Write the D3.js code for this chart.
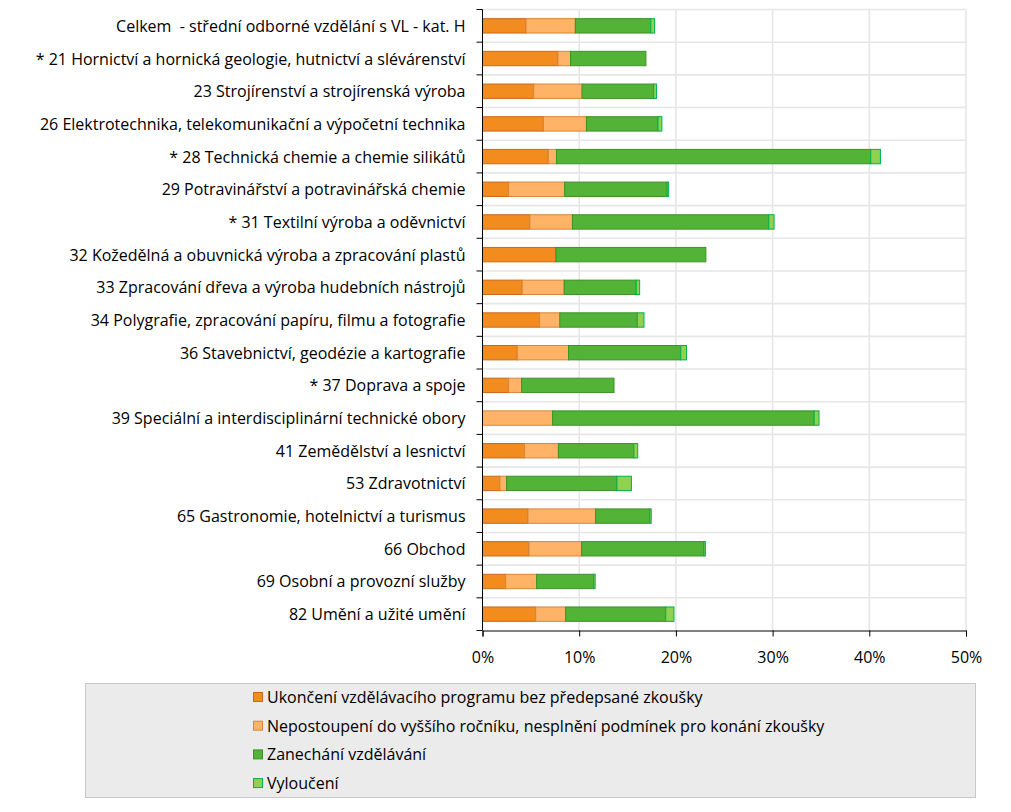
<!DOCTYPE html>
<html>
<head>
<meta charset="utf-8">
<script src="https://cdn.jsdelivr.net/npm/d3@7"></script>
<style>
  html, body { margin: 0; padding: 0; background: #ffffff; }
  svg text { font-family: "Open Sans", "Noto Sans", sans-serif; fill: #000; white-space: pre; }
</style>
</head>
<body>
<svg id="chart" width="1011" height="812"></svg>
<script>
const categories = [
  "Celkem  - střední odborné vzdělání s VL - kat. H",
  "* 21 Hornictví a hornická geologie, hutnictví a slévárenství",
  "23 Strojírenství a strojírenská výroba",
  "26 Elektrotechnika, telekomunikační a výpočetní technika",
  "* 28 Technická chemie a chemie silikátů",
  "29 Potravinářství a potravinářská chemie",
  "* 31 Textilní výroba a oděvnictví",
  "32 Kožedělná a obuvnická výroba a zpracování plastů",
  "33 Zpracování dřeva a výroba hudebních nástrojů",
  "34 Polygrafie, zpracování papíru, filmu a fotografie",
  "36 Stavebnictví, geodézie a kartografie",
  "* 37 Doprava a spoje",
  "39 Speciální a interdisciplinární technické obory",
  "41 Zemědělství a lesnictví",
  "53 Zdravotnictví",
  "65 Gastronomie, hotelnictví a turismus",
  "66 Obchod",
  "69 Osobní a provozní služby",
  "82 Umění a užité umění"
];
const seriesNames = [
  "Ukončení vzdělávacího programu bez předepsané zkoušky",
  "Nepostoupení do vyššího ročníku, nesplnění podmínek pro konání zkoušky",
  "Zanechání vzdělávání",
  "Vyloučení"
];
// values in %
const ukonceni     = [4.5, 7.8, 5.3, 6.3, 6.8, 2.7, 4.9, 7.6, 4.1, 5.9, 3.6, 2.7, 0.0, 4.35, 1.8, 4.7, 4.8, 2.4, 5.5];
const nepostoupeni = [5.1, 1.3, 5.0, 4.45, 0.85, 5.8, 4.4, 0.0, 4.35, 2.1, 5.3, 1.35, 7.25, 3.5, 0.7, 7.0, 5.45, 3.2, 3.1];
const zanechani    = [7.8, 7.8, 7.4, 7.4, 32.5, 10.6, 20.3, 15.5, 7.45, 8.0, 11.6, 9.55, 27.05, 7.8, 11.4, 5.6, 12.65, 5.9, 10.35];
const vylouceni    = [0.4, 0.0, 0.3, 0.4, 1.0, 0.15, 0.55, 0.0, 0.35, 0.7, 0.6, 0.0, 0.5, 0.4, 1.5, 0.15, 0.15, 0.15, 0.85];
const xTicks = [0, 10, 20, 30, 40, 50];

const fills   = ["#f28c1e", "#ffb366", "#52b336", "#92d050"];
const strokes = ["#c8691a", "#d9853a", "#3d9228", "#00b050"];

const svg = d3.select("#chart");
const margin = { left: 482.5, right: 966, top: 9.5, bottom: 630.5 };
const FONT = "16px";

const x = d3.scaleLinear().domain([0, 50]).range([margin.left, margin.right]);
const y = d3.scaleBand().domain(categories).range([margin.top, margin.bottom]).paddingInner(0.56).paddingOuter(0.28);
const yb = d3.scaleBand().domain(categories).range([margin.top, margin.bottom]);

const rows = categories.map((c, i) => ({ cat: c, v: [ukonceni[i], nepostoupeni[i], zanechani[i], vylouceni[i]] }));

const g = svg.append("g");

// gridlines
g.selectAll("line.vg").data(xTicks.slice(1)).join("line")
  .attr("x1", d => x(d)).attr("x2", d => x(d))
  .attr("y1", margin.top).attr("y2", margin.bottom)
  .attr("stroke", "#e6e6e6").attr("stroke-width", 1.6);
const bounds = categories.map(c => yb(c));
g.selectAll("line.hg").data(bounds).join("line")
  .attr("x1", margin.left).attr("x2", margin.right)
  .attr("y1", d => d).attr("y2", d => d)
  .attr("stroke", "#e6e6e6").attr("stroke-width", 1.6);

// bars
rows.forEach(r => {
  let acc = 0;
  r.v.forEach((val, k) => {
    if (val > 0) {
      g.append("rect")
        .attr("x", x(acc)).attr("width", x(acc + val) - x(acc))
        .attr("y", y(r.cat)).attr("height", y.bandwidth())
        .attr("fill", fills[k]).attr("stroke", strokes[k]).attr("stroke-width", 1);
    }
    acc += val;
  });
});

// y axis
g.append("line").attr("x1", margin.left).attr("x2", margin.left)
  .attr("y1", margin.top).attr("y2", margin.bottom).attr("stroke", "#000").attr("stroke-width", 1);
g.selectAll("line.yt").data(bounds.concat([margin.bottom])).join("line")
  .attr("x1", margin.left - 6).attr("x2", margin.left)
  .attr("y1", d => d).attr("y2", d => d).attr("stroke", "#000");
g.selectAll("text.yl").data(categories).join("text")
  .attr("x", margin.left - 17).attr("y", d => yb(d) + yb.bandwidth() / 2)
  .attr("text-anchor", "end").attr("dominant-baseline", "central")
  .style("font-size", FONT).text(d => d);

// x axis
const xAxis = d3.axisBottom(x).tickValues(xTicks).tickSize(6).tickFormat(d => d + "%");
const xa = svg.append("g").attr("transform", `translate(0,${margin.bottom})`).call(xAxis);
xa.select(".domain").attr("stroke", "#000");
xa.selectAll(".tick line").attr("stroke", "#000");
xa.selectAll(".tick text").attr("dy", null).attr("y", 26).attr("dominant-baseline", "central")
  .style("font-size", FONT).style("font-family", "\"Open Sans\", \"Noto Sans\", sans-serif").attr("fill", "#000");

// legend
const lg = svg.append("g");
lg.append("rect").attr("x", 85.5).attr("y", 683.5).attr("width", 890).attr("height", 114)
  .attr("fill", "#ebebeb").attr("stroke", "#c8c8c8");
seriesNames.forEach((s, i) => {
  const cy = 697 + i * 28.7;
  lg.append("rect").attr("x", 253.5).attr("y", cy - 4.5).attr("width", 9).attr("height", 9)
    .attr("fill", fills[i]).attr("stroke", strokes[i]);
  lg.append("text").attr("x", 267).attr("y", cy).attr("dominant-baseline", "central")
    .style("font-size", FONT).text(s);
});
</script>
</body>
</html>
